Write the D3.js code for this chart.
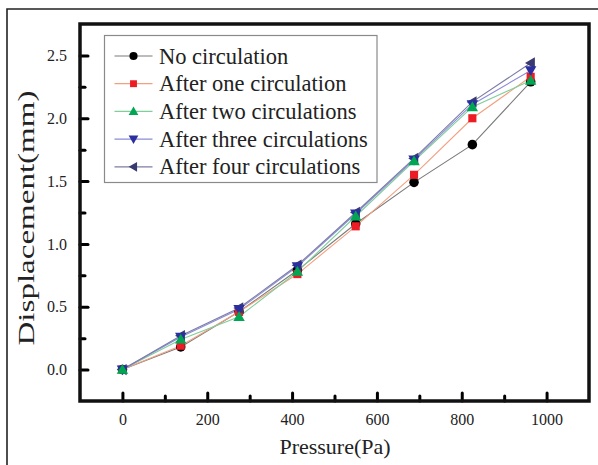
<!DOCTYPE html>
<html>
<head>
<meta charset="utf-8">
<script src="https://cdn.jsdelivr.net/npm/d3@7"></script>
<style>
  body { margin: 0; background: #fff; }
  svg { display: block; font-family: "Liberation Serif", "DejaVu Serif", serif; }
</style>
</head>
<body>
<svg id="chart" width="598" height="465"></svg>
<script>
// pressure (Pa) at each loading step
const pressure = [0, 137.5, 275, 412.5, 550, 687.5, 825, 962.5]

const noCirc    = [0, 0.18, 0.46, 0.79, 1.16, 1.49, 1.79, 2.29]
const oneCirc   = [0, 0.19, 0.46, 0.76, 1.14, 1.55, 2.00, 2.33]
const twoCirc   = [0, 0.24, 0.42, 0.78, 1.22, 1.66, 2.09, 2.30]
const threeCirc = [0, 0.26, 0.48, 0.82, 1.24, 1.67, 2.11, 2.38]
const fourCirc  = [0, 0.27, 0.49, 0.83, 1.25, 1.68, 2.13, 2.44]

const seriesNames = ['No circulation', 'After one circulation', 'After two circulations',
                     'After three circulations', 'After four circulations']

const xTicks = [0, 200, 400, 600, 800, 1000]
const yTicks = [0, 0.5, 1.0, 1.5, 2.0, 2.5]

const series = [
    { name: seriesNames[0], values: noCirc,    line: '#7a7a7a', fill: '#000000', shape: 'circle' },
    { name: seriesNames[1], values: oneCirc,   line: '#f3a080', fill: '#ed1c24', shape: 'square' },
    { name: seriesNames[2], values: twoCirc,   line: '#7fcf9a', fill: '#00a651', shape: 'up' },
    { name: seriesNames[3], values: threeCirc, line: '#8c8cd8', fill: '#2b2e9e', shape: 'down' },
    { name: seriesNames[4], values: fourCirc,  line: '#7c7ca6', fill: '#3a3a72', shape: 'left' }
]

const svg = d3.select('#chart')

// outer thin frame (runs off the picture at right and bottom)
svg.append('path').attr('d', 'M7,470 L7,9 L605,9')
    .attr('fill', 'none').attr('stroke', '#222').attr('stroke-width', 1.6)

const plotL = 80, plotR = 589, plotT = 24, plotB = 401

const x = d3.scaleLinear().domain([-100, 1100]).range([plotL, plotR])
const y = d3.scaleLinear().domain([-0.25, 2.75]).range([plotB, plotT])

// ticks, inward
const xAxis = d3.axisBottom(x).tickValues(xTicks).tickSize(-8).tickFormat(d => d).tickPadding(13)
const xMinor = d3.axisBottom(x).tickValues([100, 300, 500, 700, 900]).tickSize(-5).tickFormat('')
const yAxis = d3.axisLeft(y).tickValues(yTicks).tickSize(-8).tickFormat(d3.format('.1f')).tickPadding(13)
const yMinor = d3.axisLeft(y).tickValues([0.25, 0.75, 1.25, 1.75, 2.25]).tickSize(-5).tickFormat('')

function styleAxis (g) {
    g.select('.domain').remove()
    g.selectAll('.tick line').attr('stroke', '#000').attr('stroke-width', 3).attr('stroke-linecap', 'round')
    g.selectAll('.tick text').attr('fill', '#222').style('font-size', '16px')
        .style('font-family', '"Liberation Serif", serif')
}

svg.append('g').attr('transform', `translate(0,${plotB})`).call(xAxis).call(styleAxis)
svg.append('g').attr('transform', `translate(0,${plotB})`).call(xMinor).call(styleAxis)
svg.append('g').attr('transform', `translate(${plotL},0)`).call(yAxis).call(styleAxis)
svg.append('g').attr('transform', `translate(${plotL},0)`).call(yMinor).call(styleAxis)

// plot frame
svg.append('rect').attr('x', plotL).attr('y', plotT)
    .attr('width', plotR - plotL).attr('height', plotB - plotT)
    .attr('fill', 'none').attr('stroke', '#111').attr('stroke-width', 3.5)

// axis titles
svg.append('text').attr('x', 335).attr('y', 454).attr('text-anchor', 'middle')
    .style('font-size', '22px').attr('fill', '#222').text('Pressure(Pa)')
svg.append('text').attr('transform', 'translate(34,218) rotate(-90)').attr('text-anchor', 'middle')
    .attr('textLength', 255).attr('lengthAdjust', 'spacingAndGlyphs')
    .style('font-size', '23px').attr('fill', '#222').text('Displacement(mm)')

function symbolPath (shape) {
    if (shape === 'circle') return d3.symbol(d3.symbolCircle, 72)()
    if (shape === 'square') return d3.symbol(d3.symbolSquare, 66)()
    const tri = 'M0,-5.7 L5.7,4.2 L-5.7,4.2 Z'
    return tri
}
function symbolRotate (shape) {
    if (shape === 'down') return 180
    if (shape === 'left') return -90
    return 0
}

const line = d3.line().x((d, i) => x(pressure[i])).y(d => y(d))

svg.selectAll('path.series').data(series).enter()
    .append('path').attr('class', 'series')
    .attr('d', d => line(d.values))
    .attr('fill', 'none').attr('stroke', d => d.line).attr('stroke-width', 1.1)

// marker draw order as seen in the picture
const markerOrder = [0, 1, 4, 3, 2]
for (const k of markerOrder) {
    const s = series[k]
    svg.append('g').selectAll('path').data(s.values).enter()
        .append('path')
        .attr('d', symbolPath(s.shape))
        .attr('transform', (d, i) => `translate(${x(pressure[i])},${y(d)}) rotate(${symbolRotate(s.shape)})`)
        .attr('fill', s.fill)
}

// legend
const lg = svg.append('g').attr('transform', 'translate(104.5,35.5)')
lg.append('rect').attr('width', 272.5).attr('height', 147)
    .attr('fill', '#fff').attr('stroke', '#8a8a8a').attr('stroke-width', 1.2)

const rows = lg.selectAll('g.row').data(series).enter()
    .append('g').attr('class', 'row')
    .attr('transform', (d, i) => `translate(0,${20.5 + i * 27.7})`)
rows.append('line').attr('x1', 10).attr('x2', 48)
    .attr('stroke', d => d.line).attr('stroke-width', 1.2)
rows.append('path')
    .attr('d', d => symbolPath(d.shape))
    .attr('transform', d => `translate(29,0) rotate(${symbolRotate(d.shape)}) scale(0.85)`)
    .attr('fill', d => d.fill)
rows.append('text').attr('x', 54.5).attr('y', 7.5)
    .style('font-size', '22.5px').attr('fill', '#222').text(d => d.name)
</script>
</body>
</html>
